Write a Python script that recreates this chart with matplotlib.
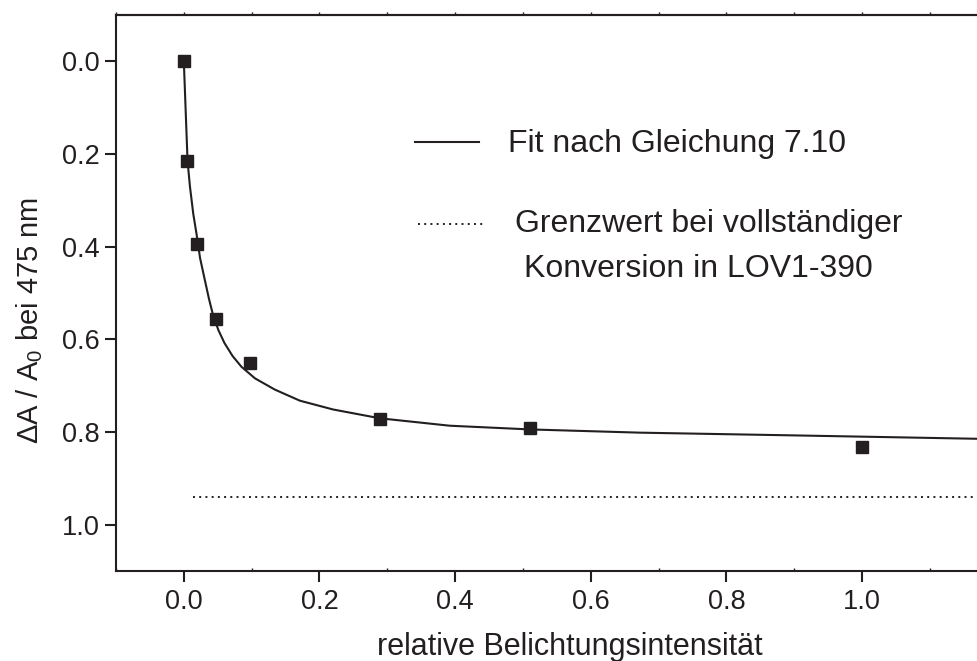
import numpy as np
from matplotlib import pyplot as plt
from matplotlib.lines import Line2D
from matplotlib.ticker import MultipleLocator

plt.rcParams['font.family'] = ['Liberation Sans', 'DejaVu Sans']
plt.rcParams['mathtext.fontset'] = 'custom'
plt.rcParams['mathtext.rm'] = 'Liberation Sans'
plt.rcParams['mathtext.it'] = 'Liberation Sans'

INK = '#231f20'

# measured points
intensity = [0.0, 0.005, 0.02, 0.048, 0.097, 0.289, 0.51, 1.0]
delta_a = [0.0, 0.215, 0.395, 0.557, 0.650, 0.772, 0.791, 0.831]

# fit curve (Gleichung 7.10)
fit_x = [0.0, 0.0055, 0.009, 0.014, 0.019, 0.024, 0.031, 0.037, 0.043,
         0.051, 0.060, 0.072, 0.085, 0.105, 0.134, 0.171, 0.220, 0.289,
         0.392, 0.510, 0.673, 0.904, 1.2]
fit_y = [0.0, 0.215, 0.270, 0.330, 0.375, 0.425, 0.472, 0.512, 0.547,
         0.580, 0.608, 0.636, 0.659, 0.684, 0.708, 0.732, 0.751, 0.770,
         0.786, 0.794, 0.801, 0.807, 0.815]

# limit for full conversion into LOV1-390
limit_x = [0.013, 1.2]
limit_value = 0.94

x_ticks = [0.0, 0.2, 0.4, 0.6, 0.8, 1.0]
y_ticks = [0.0, 0.2, 0.4, 0.6, 0.8, 1.0]

W, H = 978, 661
fig = plt.figure(figsize=(W / 100, H / 100), dpi=100)
ax = fig.add_axes([116 / W, 1 - 571.4 / H, (997.6 - 116) / W, (571.4 - 14.6) / H])

ax.plot(fit_x, fit_y, color=INK, lw=1.5, zorder=2)
ax.plot(limit_x, [limit_value, limit_value], color=INK, lw=1.4,
        linestyle=(0, (1, 2.2)), zorder=2)
ax.plot(intensity, delta_a, linestyle='none', marker='s', ms=8.3,
        color=INK, zorder=3)

ax.set_xlim(-0.1, 1.2)
ax.set_ylim(1.1, -0.1)
ax.set_xticks(x_ticks)
ax.set_xticklabels([format(v, '.1f') for v in x_ticks])
ax.set_yticks(y_ticks)
ax.set_yticklabels([format(v, '.1f') for v in y_ticks])
ax.xaxis.set_minor_locator(MultipleLocator(0.1))

for side in ax.spines.values():
    side.set_linewidth(1.5)
    side.set_color(INK)

ax.tick_params(which='major', length=8, width=1.5, color=INK,
               labelsize=19.5, labelcolor=INK)
ax.tick_params(axis='x', which='major', pad=5)
ax.tick_params(axis='y', which='major', pad=3.5)
ax.tick_params(axis='x', which='minor', direction='in', length=2.5, width=1.0,
               color=INK)

# small outward ticks along the top edge
top = ax.secondary_xaxis('top')
top.set_xticks(np.arange(-0.1, 1.25, 0.1))
top.tick_params(length=2, width=1.0, color=INK, labeltop=False)
top.spines['top'].set_linewidth(1.5)
top.spines['top'].set_color(INK)

fig.text(570 / W, 1 - 655 / H, 'relative Belichtungsintensität', ha='center',
         va='baseline', fontsize=22, color=INK)
fig.text(30 / W, 1 - 320 / H, r'ΔA / A$_\mathregular{0}$ bei 475 nm',
         rotation=90, ha='center', va='center', fontsize=21, color=INK)

# legend drawn by hand
fig.add_artist(Line2D([415 / W, 479 / W], [1 - 142.3 / H] * 2, color=INK, lw=1.5))
fig.add_artist(Line2D([418 / W, 483 / W], [1 - 224 / H] * 2, color=INK, lw=1.4,
                      linestyle=(0, (1, 2.2))))
fig.text(507.7 / W, 1 - 151.7 / H, 'Fit nach Gleichung 7.10', va='baseline',
         fontsize=23, color=INK)
fig.text(515 / W, 1 - 231.7 / H, 'Grenzwert bei vollständiger', va='baseline',
         fontsize=23, color=INK)
fig.text(524 / W, 1 - 276.7 / H, 'Konversion in LOV1-390', va='baseline',
         fontsize=23, color=INK)

fig.savefig('out.png', dpi=100)
